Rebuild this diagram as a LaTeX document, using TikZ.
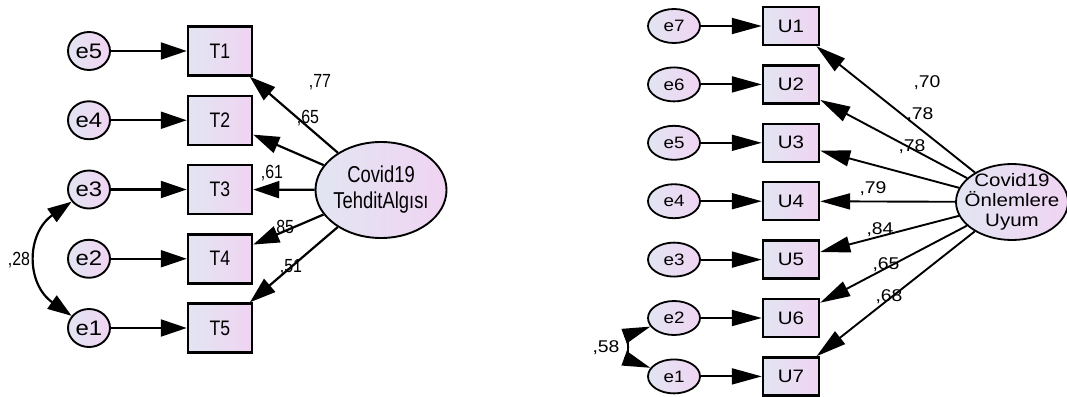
\documentclass[tikz,border=0pt]{standalone}
\usepackage{fontspec}
\setmainfont{Liberation Sans}
\newfontfamily\narrowsf{Liberation Sans}[FakeStretch=0.84]
\newfontfamily\slimsf{Liberation Sans}[FakeStretch=0.8]
\newfontfamily\widesf{Liberation Sans}[FakeStretch=1.14]
\usetikzlibrary{arrows.meta,shapes.geometric}
\definecolor{shadeL}{RGB}{226,229,242}
\definecolor{shadeR}{RGB}{240,212,242}
\tikzset{
  errL/.style={ellipse,draw,line width=1.9pt,left color=shadeL,right color=shadeR,
    inner sep=0pt,minimum width=42pt,minimum height=38pt,font=\widesf\fontsize{21}{22}\selectfont},
  obsL/.style={rectangle,draw,line width=2.5pt,left color=shadeL,right color=shadeR,
    inner sep=0pt,minimum width=64pt,minimum height=49pt,font=\narrowsf\fontsize{21}{22}\selectfont},
  latL/.style={ellipse,draw,line width=1.9pt,left color=shadeL,right color=shadeR,align=center,
    inner xsep=-4pt,inner ysep=0pt,minimum width=131pt,minimum height=96pt,font=\slimsf\fontsize{23}{26}\selectfont},
  pathL/.style={line width=2.2pt,-{Triangle[length=26pt,width=17pt]}},
  covL/.style={line width=2.2pt,{Triangle[length=24pt,width=16pt]}-{Triangle[length=24pt,width=16pt]}},
  coefL/.style={inner sep=0pt,font=\narrowsf\fontsize{19}{20}\selectfont},
  errR/.style={ellipse,draw,line width=1.8pt,left color=shadeL,right color=shadeR,
    inner sep=0pt,minimum width=52pt,minimum height=34pt,font=\widesf\fontsize{16.5}{18}\selectfont},
  obsR/.style={rectangle,draw,line width=2.4pt,left color=shadeL,right color=shadeR,
    inner sep=0pt,minimum width=56pt,minimum height=38pt,font=\widesf\fontsize{18}{18}\selectfont},
  latR/.style={ellipse,draw,line width=1.8pt,left color=shadeL,right color=shadeR,align=center,
    inner xsep=-18pt,inner ysep=-5pt,minimum width=112pt,minimum height=76pt,font=\widesf\fontsize{18}{20}\selectfont},
  pathR/.style={line width=1.9pt,-{Triangle[length=30pt,width=16pt]}},
  covR/.style={line width=1.9pt,{Triangle[length=28pt,width=15pt]}-{Triangle[length=28pt,width=15pt]}},
  coefR/.style={inner sep=0pt,font=\widesf\fontsize{17}{18}\selectfont},
}
\begin{document}
\begin{tikzpicture}[x=1pt,y=-1pt]
  \useasboundingbox (0,0) rectangle (1067,396);
  % threat perception model
  \foreach \i/\e in {1/5,2/4,3/3,4/2,5/1}{
    \node[errL] (le\e) at (89,{51+69.25*(\i-1)}) {e\e};
    \node[obsL] (T\i) at (220,{51+69.25*(\i-1)}) {T\i};
    \draw[pathL] (le\e) -- (T\i);
  }
  \node[latL] (tehdit) at (381,190) {Covid19\\TehditAlg\i s\i};
  \foreach \i in {1,...,5}{\draw[pathL] (tehdit) -- (T\i);}
  \draw[covL] (le3) to[out=215,in=145,looseness=1.25] (le1);
  \node[coefL] (k77) at (320,82) {,77};
  \node[coefL] (k65) at (308,118) {,65};
  \node[coefL] (k61) at (272,173) {,61};
  \node[coefL] (k85) at (283,228) {,85};
  \node[coefL] (k51) at (291,267) {,51};
  \node[coefL] (k28) at (19,260) {,28};
  % compliance model
  \foreach \i/\e in {1/7,2/6,3/5,4/4,5/3,6/2,7/1}{
    \node[errR] (re\e) at (674,{26+58.4*(\i-1)}) {e\e};
    \node[obsR] (U\i) at (791,{26+58.4*(\i-1)}) {U\i};
    \draw[pathR] (re\e) -- (U\i);
  }
  \node[latR] (uyum) at (1012,202) {Covid19\\Önlemlere\\Uyum};
  \foreach \i in {1,...,7}{\draw[pathR] (uyum) -- (U\i);}
  \draw[covR] (re2) to[out=200,in=160,looseness=1.4] (re1);
  \node[coefR] (m70) at (927,83) {,70};
  \node[coefR] (m78a) at (920,115) {,78};
  \node[coefR] (m78b) at (912,147) {,78};
  \node[coefR] (m79) at (873,189) {,79};
  \node[coefR] (m84) at (880,230) {,84};
  \node[coefR] (m65) at (886,265) {,65};
  \node[coefR] (m68) at (889,297) {,68};
  \node[coefR] (m58) at (606,348) {,58};
\end{tikzpicture}
\end{document}
